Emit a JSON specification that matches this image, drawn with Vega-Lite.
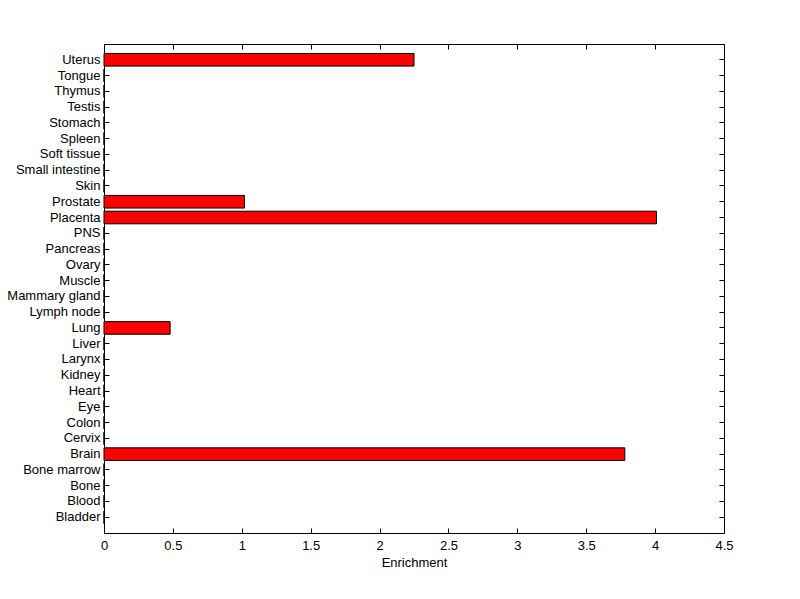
{
  "$schema": "https://vega.github.io/schema/vega-lite/v6.json",
  "width": 620,
  "height": 489,
  "autosize": {"type": "none"},
  "padding": {"left": 104, "top": 44, "right": 76, "bottom": 66},
  "background": "white",
  "config": {
    "view": {"stroke": "black", "strokeWidth": 1},
    "font": "Liberation Sans",
    "axis": {"grid": false, "domainColor": "black", "tickColor": "black", "labelColor": "black", "titleColor": "black", "labelFont": "Liberation Sans", "titleFont": "Liberation Sans", "labelFontSize": 13, "titleFontSize": 13, "titleFontWeight": "normal"}
  },
  "data": {"values": [
    {"tissue": "Bladder", "enrichment": 0},
    {"tissue": "Blood", "enrichment": 0},
    {"tissue": "Bone", "enrichment": 0},
    {"tissue": "Bone marrow", "enrichment": 0},
    {"tissue": "Brain", "enrichment": 3.78},
    {"tissue": "Cervix", "enrichment": 0},
    {"tissue": "Colon", "enrichment": 0},
    {"tissue": "Eye", "enrichment": 0},
    {"tissue": "Heart", "enrichment": 0},
    {"tissue": "Kidney", "enrichment": 0},
    {"tissue": "Larynx", "enrichment": 0},
    {"tissue": "Liver", "enrichment": 0},
    {"tissue": "Lung", "enrichment": 0.48},
    {"tissue": "Lymph node", "enrichment": 0},
    {"tissue": "Mammary gland", "enrichment": 0},
    {"tissue": "Muscle", "enrichment": 0},
    {"tissue": "Ovary", "enrichment": 0},
    {"tissue": "Pancreas", "enrichment": 0},
    {"tissue": "PNS", "enrichment": 0},
    {"tissue": "Placenta", "enrichment": 4.01},
    {"tissue": "Prostate", "enrichment": 1.02},
    {"tissue": "Skin", "enrichment": 0},
    {"tissue": "Small intestine", "enrichment": 0},
    {"tissue": "Soft tissue", "enrichment": 0},
    {"tissue": "Spleen", "enrichment": 0},
    {"tissue": "Stomach", "enrichment": 0},
    {"tissue": "Testis", "enrichment": 0},
    {"tissue": "Thymus", "enrichment": 0},
    {"tissue": "Tongue", "enrichment": 0},
    {"tissue": "Uterus", "enrichment": 2.25}
  ]},
  "layer": [
    {
      "mark": {"type": "bar", "fill": "#ff0000", "stroke": "black", "strokeWidth": 1},
      "encoding": {
        "y": {
          "field": "tissue", "type": "nominal",
          "sort": ["Uterus","Tongue","Thymus","Testis","Stomach","Spleen","Soft tissue","Small intestine","Skin","Prostate","Placenta","PNS","Pancreas","Ovary","Muscle","Mammary gland","Lymph node","Lung","Liver","Larynx","Kidney","Heart","Eye","Colon","Cervix","Brain","Bone marrow","Bone","Blood","Bladder"],
          "scale": {"paddingInner": 0.2, "paddingOuter": 0.6},
          "axis": {"title": null, "orient": "left", "tickSize": -5, "labelPadding": 9, "domain": false}
        },
        "x": {
          "field": "enrichment", "type": "quantitative",
          "scale": {"domain": [0, 4.5], "nice": false},
          "axis": {"title": "Enrichment", "orient": "bottom", "values": [0,0.5,1,1.5,2,2.5,3,3.5,4,4.5], "format": "~g", "tickSize": -5, "labelPadding": 11, "titlePadding": 4, "domain": false, "labelFlush": false, "labelOverlap": false}
        }
      }
    },
    {
      "mark": {"type": "bar", "opacity": 0},
      "encoding": {
        "y": {
          "field": "tissue", "type": "nominal",
          "sort": ["Uterus","Tongue","Thymus","Testis","Stomach","Spleen","Soft tissue","Small intestine","Skin","Prostate","Placenta","PNS","Pancreas","Ovary","Muscle","Mammary gland","Lymph node","Lung","Liver","Larynx","Kidney","Heart","Eye","Colon","Cervix","Brain","Bone marrow","Bone","Blood","Bladder"],
          "axis": {"title": null, "orient": "right", "tickSize": -5, "labels": false, "domain": false}
        },
        "x": {
          "field": "enrichment", "type": "quantitative",
          "axis": {"title": null, "orient": "top", "values": [0,0.5,1,1.5,2,2.5,3,3.5,4,4.5], "tickSize": -5, "labels": false, "domain": false}
        }
      }
    }
  ]
}
